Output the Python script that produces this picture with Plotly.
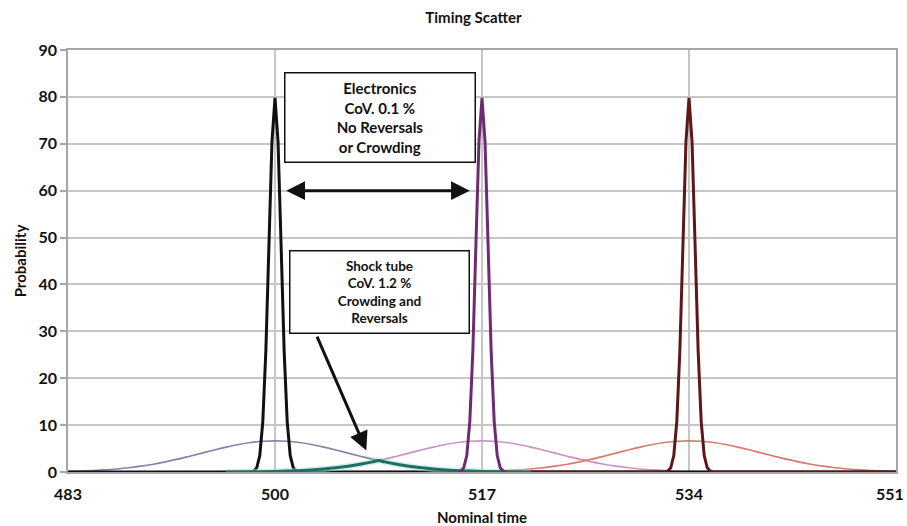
import plotly.graph_objects as go

# ---- data ----
x_ticks = [483, 500, 517, 534, 551]
y_ticks = [0, 10, 20, 30, 40, 50, 60, 70, 80, 90]
centers = [500, 517, 534]

# narrow (electronics) peak profile, offset from centre -> probability
narrow_offsets = [-2.0, -1.75, -1.5, -1.25, -1.0, -0.75, -0.5, -0.25, 0.0,
                  0.25, 0.5, 0.75, 1.0, 1.25, 1.5, 1.75, 2.0]
narrow_values = [0.0, 0.17, 0.89, 3.5, 10.8, 25.9, 48.4, 70.4, 79.8,
                 70.4, 48.4, 25.9, 10.8, 3.5, 0.89, 0.17, 0.0]

# wide (shock tube) profile
wide_offsets = [-17, -16, -15, -14, -13, -12, -11, -10, -9, -8, -7, -6, -5, -4, -3, -2, -1,
                0, 1, 2, 3, 4, 5, 6, 7, 8, 9, 10, 11, 12, 13, 14, 15, 16, 17]
wide_values = [0.12, 0.19, 0.29, 0.44, 0.64, 0.90, 1.24, 1.66, 2.16, 2.73, 3.37, 4.03, 4.70,
               5.32, 5.87, 6.29, 6.56, 6.65, 6.56, 6.29, 5.87, 5.32, 4.70, 4.03, 3.37, 2.73,
               2.16, 1.66, 1.24, 0.90, 0.64, 0.44, 0.29, 0.19, 0.12]

# overlap (crowding) region between first two wide curves
overlap_x = [496, 497, 498, 499, 500, 501, 502, 503, 504, 505, 506, 507, 508, 508.5,
             509, 510, 511, 512, 513, 514, 515, 516, 517, 518, 519, 520, 521]
overlap_values = [0.01, 0.02, 0.04, 0.07, 0.12, 0.19, 0.29, 0.44, 0.64, 0.90, 1.24, 1.66,
                  2.16, 2.44, 2.16, 1.66, 1.24, 0.90, 0.64, 0.44, 0.29, 0.19, 0.12, 0.07,
                  0.04, 0.02, 0.01]

wide_colors = ["#8384a8", "#c994c4", "#d97a6c"]
narrow_colors = ["#111111", "#6e2a72", "#5e1618"]
overlap_color = "#1f6e62"

X0, X1 = 483, 551

fig = go.Figure()


def full(xs, ys):
    xx, yy = list(xs), list(ys)
    if xx[0] > X0:
        xx = [X0] + xx
        yy = [0.0] + yy
    if xx[-1] < X1:
        xx = xx + [X1]
        yy = yy + [0.0]
    return xx, yy


# wide curves
for c, col in zip(centers, wide_colors):
    xs, ys = full([c + o for o in wide_offsets], wide_values)
    fig.add_trace(go.Scatter(x=xs, y=ys, mode="lines", line=dict(color=col, width=1.7),
                             line_shape="spline", hoverinfo="skip", showlegend=False))

# narrow black peak (full range baseline)
xs, ys = full([centers[0] + o for o in narrow_offsets], narrow_values)
fig.add_trace(go.Scatter(x=xs, y=ys, mode="lines", line=dict(color=narrow_colors[0], width=3),
                         hoverinfo="skip", showlegend=False))

# overlap region
fig.add_trace(go.Scatter(x=overlap_x, y=overlap_values, mode="lines",
                         line=dict(color="#9fe0dc", width=6), line_shape="spline",
                         hoverinfo="skip", showlegend=False, opacity=0.5))
fig.add_trace(go.Scatter(x=overlap_x, y=overlap_values, mode="lines",
                         line=dict(color=overlap_color, width=3), line_shape="spline",
                         hoverinfo="skip", showlegend=False))

# purple and red narrow peaks
xs = [centers[1] + o for o in narrow_offsets]
fig.add_trace(go.Scatter(x=xs, y=narrow_values, mode="lines",
                         line=dict(color=narrow_colors[1], width=3),
                         hoverinfo="skip", showlegend=False))
xs = [521] + [centers[2] + o for o in narrow_offsets] + [X1]
ys = [0.0] + narrow_values + [0.0]
fig.add_trace(go.Scatter(x=xs, y=ys, mode="lines",
                         line=dict(color=narrow_colors[2], width=3),
                         hoverinfo="skip", showlegend=False))

bold = dict(family="Lato, 'Open Sans', sans-serif", color="#111111", weight="bold")

# annotation boxes
fig.add_annotation(x=508.6, y=75.5, xref="x", yref="y",
                   text="Electronics<br>CoV. 0.1 %<br>No Reversals<br>or Crowding",
                   showarrow=False, font=dict(size=15, **bold), align="center",
                   bgcolor="white", bordercolor="#111111", borderwidth=1.5, borderpad=2,
                   width=185, height=84)
fig.add_annotation(x=508.6, y=38.3, xref="x", yref="y",
                   text="Shock tube<br>CoV. 1.2 %<br>Crowding and<br>Reversals",
                   showarrow=False, font=dict(size=13.5, **bold), align="center",
                   bgcolor="white", bordercolor="#111111", borderwidth=1.5, borderpad=2,
                   width=174, height=77)

# double arrow
fig.add_annotation(x=516.0, y=60, ax=500.8, ay=60, xref="x", yref="y", axref="x", ayref="y",
                   text="", showarrow=True, arrowhead=2, startarrowhead=2, arrowside="end+start",
                   arrowsize=1.25, startarrowsize=1.25, arrowwidth=3, arrowcolor="#111111")
# pointer arrow
fig.add_annotation(x=507.5, y=4.6, ax=503.4, ay=29.2, xref="x", yref="y", axref="x", ayref="y",
                   text="", showarrow=True, arrowhead=2, arrowsize=1.25, arrowwidth=3,
                   arrowcolor="#111111")

# last x tick label kept inside the page
tick_text = [str(t) for t in x_ticks]
fig.add_annotation(x=x_ticks[-1], xref="x", y=0, yref="paper", text=tick_text[-1],
                   showarrow=False, xanchor="right", xshift=10, yanchor="middle", yshift=-21,
                   font=dict(size=16, **bold))
tick_text[-1] = ""

fig.update_layout(
    width=907, height=526,
    margin=dict(l=68, r=11, t=50, b=54, autoexpand=False),
    paper_bgcolor="white", plot_bgcolor="white",
    title=dict(text="Timing Scatter", x=0.522, xanchor="center", y=0.967, yanchor="middle",
               font=dict(size=15, **bold)),
    font=dict(family="Lato, 'Open Sans', sans-serif", color="#111111"),
)
fig.update_xaxes(range=[X0, X1], tickvals=x_ticks, ticktext=tick_text,
                 showgrid=True, gridcolor="#c6c6c6", gridwidth=1.5,
                 showline=True, linecolor="#a6a6a6", linewidth=1.5, mirror=True,
                 ticks="", ticklabelstandoff=7, zeroline=False, automargin=False,
                 tickfont=dict(size=16, **bold),
                 title=dict(text="Nominal time", font=dict(size=15, **bold), standoff=12))
fig.update_yaxes(range=[0, 90], tickvals=y_ticks, showgrid=True, gridcolor="#c6c6c6",
                 gridwidth=1.5, showline=True, linecolor="#a6a6a6", linewidth=1.5, mirror=True,
                 ticks="outside", ticklen=6, tickcolor="#a6a6a6", tickwidth=1.5,
                 zeroline=False, automargin=False, tickfont=dict(size=16, **bold),
                 title=dict(text="Probability", font=dict(size=15, **bold), standoff=8))

fig.write_html("out.html", config={"displayModeBar": False},
               post_script="document.body.style.margin='0px';")
